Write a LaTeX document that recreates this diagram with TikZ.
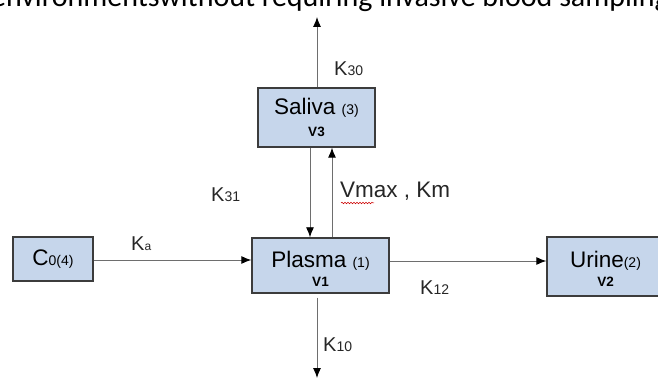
\documentclass[tikz,border=0pt]{standalone}
\usepackage{fontspec}
\setmainfont{Liberation Sans}
\newfontfamily\calib{Carlito}
\usetikzlibrary{arrows.meta,decorations.pathmorphing}
\definecolor{boxfill}{HTML}{C6D6EB}
\definecolor{boxline}{HTML}{3C3C3C}
\definecolor{linegray}{HTML}{6E6E6E}
\newcommand\fbig{\fontsize{22.5}{24}\selectfont}
\newcommand\fK{\fontsize{20}{22}\selectfont}
\newcommand\fsm{\fontsize{14}{16}\selectfont}
\newcommand\fvb{\fontsize{13.5}{15}\selectfont\bfseries}
\begin{document}
\begin{tikzpicture}[x=1pt,y=-1pt,
  compbox/.style={draw=boxline, fill=boxfill, line width=1.4pt, inner sep=0pt, align=center, font=\fbig},
  arr/.style={draw=linegray, line width=0.9pt, -{Latex[length=10pt,width=8pt,color=black]}},
  lbl/.style={anchor=base west, inner sep=0pt, text=black!85}]
\useasboundingbox (0,0) rectangle (658,379);
\clip (0,0) rectangle (658,379);
\node[anchor=base west, inner sep=0pt, font=\calib\fontsize{30}{32}\selectfont] (caption) at (-9,7) {environmentswithout requiring invasive blood sampling};
% boxes
\node[compbox, minimum width=117pt, minimum height=59pt] (saliva) at (316.5,117.5)
  {Saliva {\fsm (3)}\\[-2pt] {\fvb V3}};
\node[compbox, minimum width=137pt, minimum height=55pt] (plasma) at (320.5,265.5)
  {\rule{0pt}{22pt}Plasma {\fsm (1)}\\[-5pt] {\fvb V1}};
\node[compbox, minimum width=117pt, minimum height=59pt] (urine) at (605.5,266.5)
  {\rule{0pt}{22pt}Urine{\fsm (2)}\\[-5pt] {\fvb V2}};
\node[compbox, minimum width=80pt, minimum height=44pt] (cbox) at (53,259)
  {C{\fsm 0(4)}};
% helper coordinates
\coordinate (topend) at (317,17);
\coordinate (botend) at (317,378);
\coordinate (xl) at (310,0);
\coordinate (xr) at (332,0);
\coordinate (yc) at (0,260);
\coordinate (yr) at (0,261);
% connectors
\draw[arr] (saliva.north -| topend) -- (topend);
\draw[arr] (saliva.south -| xl) -- (plasma.north -| xl);
\draw[arr] (plasma.north -| xr) -- (saliva.south -| xr);
\draw[arr] (cbox.east |- yc) -- (plasma.west |- yc);
\draw[arr] (plasma.east |- yr) -- (urine.west |- yr);
\draw[arr, shorten <=4pt] (plasma.south -| botend) -- (botend);
% labels
\node[lbl] (k30) at (334,76) {\fK K{\fsm 30}};
\node[lbl] (k31) at (211,202) {\fK K{\fsm 31}};
\node[lbl] (vmax) at (340,198) {\fbig Vmax , Km};
\node[lbl] (ka) at (131,251) {\fK K{\fontsize{12}{14}\selectfont a}};
\node[lbl] (k12) at (420,294) {\fK K{\fsm 12}};
\node[lbl] (k10) at (323,351) {\fK K{\fsm 10}};
\draw[red!80!black, line width=0.5pt, decorate, decoration={snake, amplitude=0.8pt, segment length=3pt}] (341,203) -- (374,203);
\end{tikzpicture}
\end{document}
